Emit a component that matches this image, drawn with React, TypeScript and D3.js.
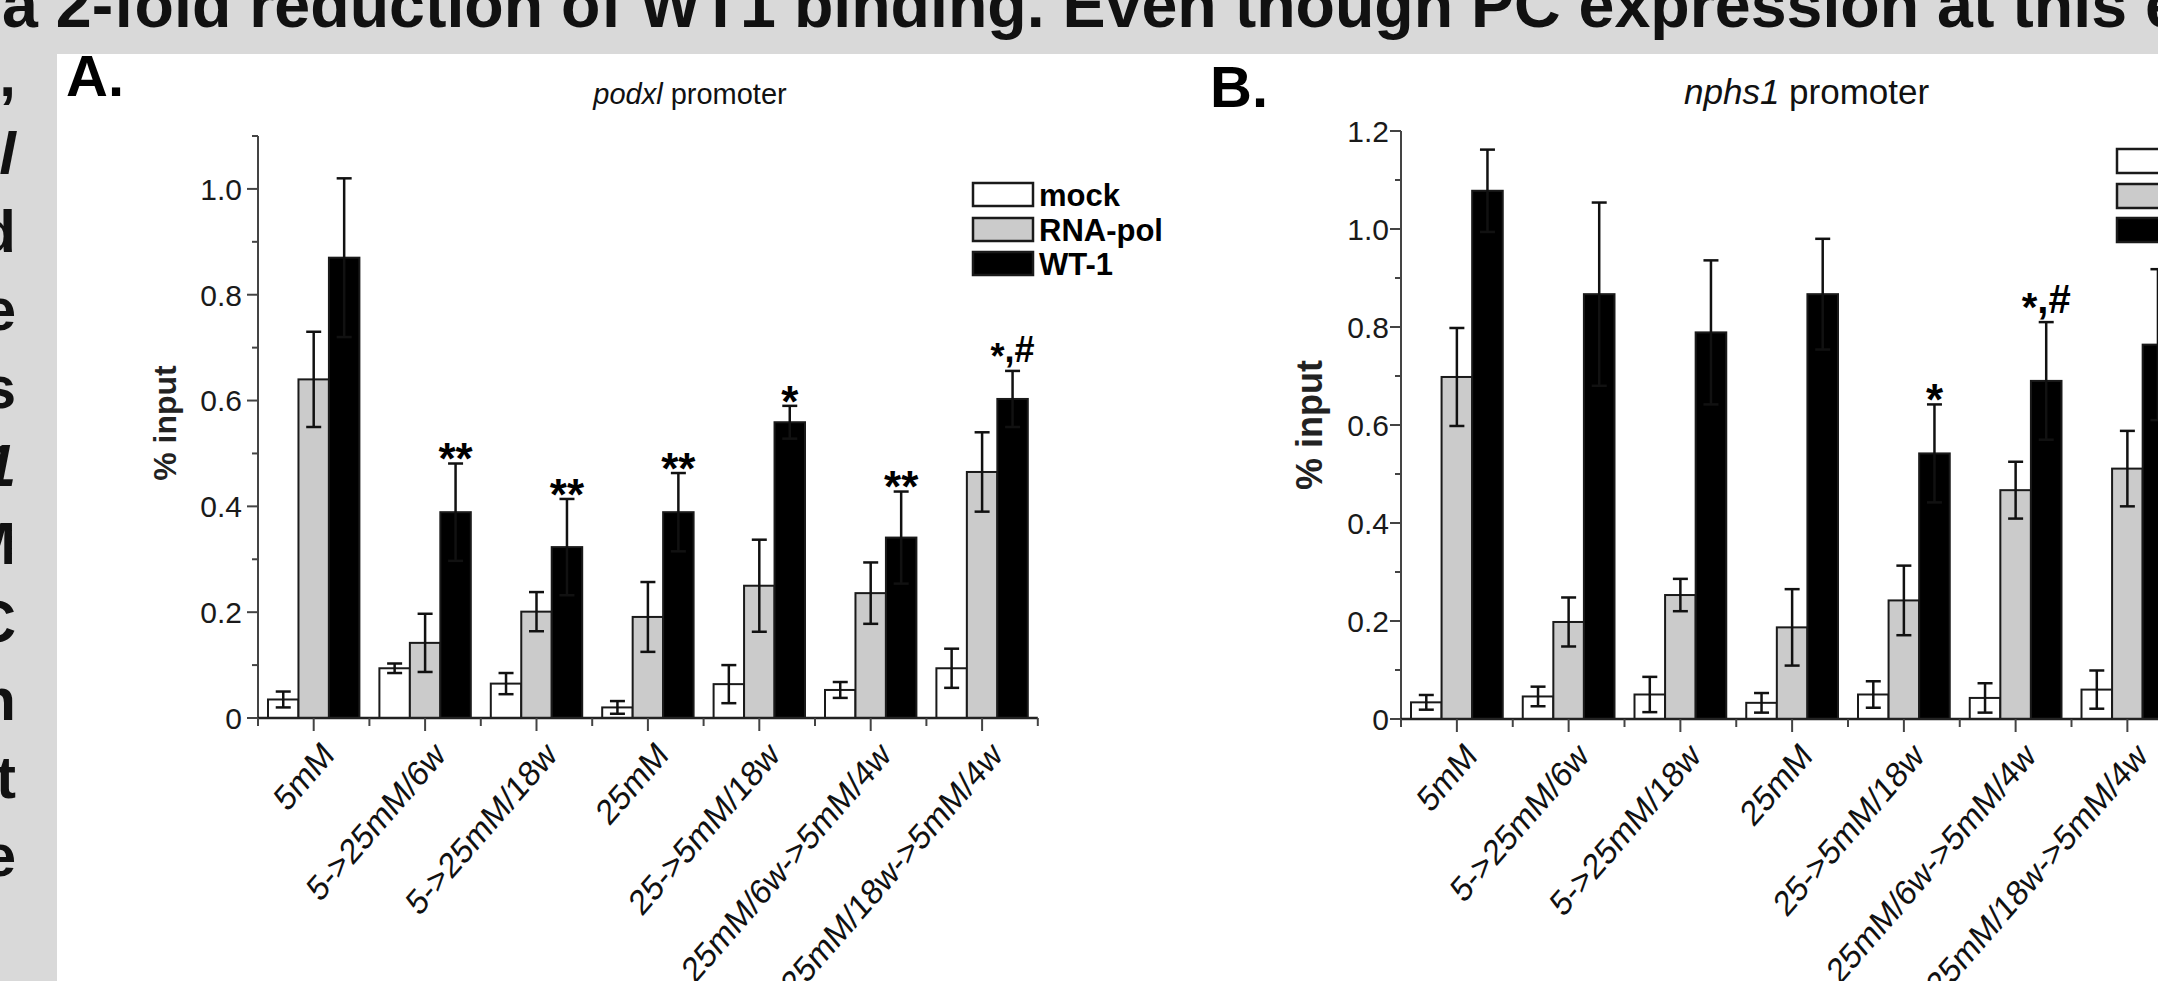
import * as d3 from 'd3';

const categories = [
  '5mM',
  '5->25mM/6w',
  '5->25mM/18w',
  '25mM',
  '25->5mM/18w',
  '25mM/6w->5mM/4w',
  '25mM/18w->5mM/4w',
];
const seriesNames = ['mock', 'RNA-pol', 'WT-1'];
const seriesFill = ['#ffffff', '#cbcbcb', '#000000'];

// panel A: podxl promoter
const podxlMock = [0.035, 0.094, 0.065, 0.02, 0.064, 0.053, 0.094];
const podxlMockErr = [0.015, 0.009, 0.02, 0.012, 0.036, 0.015, 0.037];
const podxlPol = [0.64, 0.142, 0.201, 0.191, 0.25, 0.236, 0.465];
const podxlPolErr = [0.09, 0.055, 0.037, 0.066, 0.087, 0.058, 0.075];
const podxlWt1 = [0.87, 0.389, 0.323, 0.389, 0.559, 0.341, 0.603];
const podxlWt1Err = [0.15, 0.092, 0.091, 0.074, 0.031, 0.087, 0.053];
const podxlMarks = ['', '**', '**', '**', '*', '**', '*,#'];

// panel B: nphs1 promoter
const nphsMock = [0.034, 0.046, 0.05, 0.033, 0.05, 0.043, 0.06];
const nphsMockErr = [0.015, 0.02, 0.036, 0.02, 0.027, 0.03, 0.039];
const nphsPol = [0.698, 0.198, 0.253, 0.187, 0.242, 0.467, 0.511];
const nphsPolErr = [0.1, 0.05, 0.033, 0.078, 0.071, 0.058, 0.077];
const nphsWt1 = [1.078, 0.867, 0.789, 0.867, 0.542, 0.69, 0.764];
const nphsWt1Err = [0.084, 0.187, 0.147, 0.113, 0.1, 0.12, 0.154];
const nphsMarks = ['', '', '', '', '*', '*,#', ''];

const podxlTicks = [0, 0.2, 0.4, 0.6, 0.8, 1.0];
const podxlMinor = [0.1, 0.3, 0.5, 0.7, 0.9, 1.1];
const nphsTicks = [0, 0.2, 0.4, 0.6, 0.8, 1.0, 1.2];
const nphsMinor = [0.1, 0.3, 0.5, 0.7, 0.9, 1.1];

const headline = 'a 2-fold reduction of WT1 binding. Even though PC expression at this e';
const sideLetters = [',', 'l', 'd', 'e', 's', '1', 'M', 'C', 'n', 't', 'e'];
const sideItalic = [false, true, false, false, false, true, false, false, false, false, false];

const FONT = "'Liberation Sans', Arial, Helvetica, sans-serif";

interface PanelProps {
  values: number[][];
  errors: number[][];
  marks: string[];
  ticks: number[];
  minor: number[];
  yMax: number;
  x0: number;
  groupW: number;
  y0: number;
  yTop: number;
  tickLabelRight: number;
  yLabelX: number;
  yLabelY: number;
  yLabelSize: number;
  starSize: number;
  hashSize: number;
  legendX: number;
  legendY: number[];
  legendH: number;
}

function Panel(p: PanelProps) {
  const x = d3
    .scaleBand<string>()
    .domain(categories)
    .range([p.x0, p.x0 + p.groupW * categories.length]);
  const xs = d3.scaleBand<string>().domain(seriesNames).range([10, p.groupW - 10]);
  const y = d3.scaleLinear().domain([0, p.yMax]).range([p.y0, p.yTop]);
  const bw = xs.bandwidth();
  const cap = 7.5;
  const xEnd = x.range()[1];

  return (
    <g fontFamily={FONT}>
      {/* bars */}
      {categories.map((c, i) =>
        seriesNames.map((s, j) => {
          const v = p.values[j][i];
          return (
            <rect
              key={c + s}
              x={x(c)! + xs(s)!}
              y={y(v)}
              width={bw}
              height={y(0) - y(v)}
              fill={seriesFill[j]}
              stroke="#1a1a1a"
              strokeWidth={2}
            />
          );
        })
      )}
      {/* error bars */}
      {categories.map((c, i) =>
        seriesNames.map((s, j) => {
          const v = p.values[j][i];
          const e = p.errors[j][i];
          const cx = x(c)! + xs(s)! + bw / 2;
          const hi = y(v + e);
          const lo = y(Math.max(0, v - e));
          return (
            <g key={'e' + c + s} stroke="#111" strokeWidth={2.5}>
              <line x1={cx} x2={cx} y1={hi} y2={lo} />
              <line x1={cx - cap} x2={cx + cap} y1={hi} y2={hi} />
              <line x1={cx - cap} x2={cx + cap} y1={lo} y2={lo} />
            </g>
          );
        })
      )}
      {/* significance marks */}
      {categories.map((c, i) => {
        const m = p.marks[i];
        if (!m) return null;
        const cx = x(c)! + xs('WT-1')! + bw / 2;
        const top = y(p.values[2][i] + p.errors[2][i]);
        if (m === '*,#') {
          return (
            <text key={'m' + c} x={cx} y={top - 9} fontSize={p.hashSize} fontWeight="bold" textAnchor="middle">
              <tspan dy="0.2em">*</tspan>
              <tspan dy="-0.2em">,#</tspan>
            </text>
          );
        }
        return (
          <text
            key={'m' + c}
            x={cx}
            y={top - 8 + 0.43 * p.starSize}
            fontSize={p.starSize}
            fontWeight="bold"
            textAnchor="middle"
          >
            {m}
          </text>
        );
      })}
      {/* y axis */}
      <line x1={p.x0} x2={p.x0} y1={y(0)} y2={y(p.yMax)} stroke="#444" strokeWidth={2} />
      {p.ticks.map(t => (
        <g key={'t' + t}>
          <line x1={p.x0 - 11} x2={p.x0} y1={y(t)} y2={y(t)} stroke="#444" strokeWidth={2} />
          <text
            x={p.tickLabelRight}
            y={y(t)}
            dy="0.36em"
            fontSize={30}
            textAnchor="end"
            fill="#1a1a1a"
          >
            {t === 0 ? '0' : t.toFixed(1)}
          </text>
        </g>
      ))}
      {p.minor.map(t => (
        <line key={'n' + t} x1={p.x0 - 6} x2={p.x0} y1={y(t)} y2={y(t)} stroke="#444" strokeWidth={2} />
      ))}
      <text
        transform={`translate(${p.yLabelX},${p.yLabelY}) rotate(-90)`}
        fontSize={p.yLabelSize}
        fontWeight="bold"
        textAnchor="middle"
        fill="#222"
      >
        % input
      </text>
      {/* x axis */}
      <line x1={p.x0} x2={xEnd} y1={y(0)} y2={y(0)} stroke="#222" strokeWidth={2.5} />
      {d3.range(categories.length + 1).map(k => (
        <line
          key={'b' + k}
          x1={p.x0 + k * p.groupW}
          x2={p.x0 + k * p.groupW}
          y1={y(0)}
          y2={y(0) + 8}
          stroke="#444"
          strokeWidth={2}
        />
      ))}
      {categories.map(c => {
        const cx = x(c)! + xs('RNA-pol')! + bw / 2;
        return (
          <g key={'x' + c}>
            <line x1={cx} x2={cx} y1={y(0)} y2={y(0) + 13} stroke="#444" strokeWidth={2} />
            <text
              transform={`translate(${cx + 22},${y(0) + 39}) scale(1,1.15) rotate(-45)`}
              fontSize={31}
              textAnchor="end"
              fill="#111"
            >
              {c}
            </text>
          </g>
        );
      })}
      {/* legend */}
      {seriesNames.map((s, j) => (
        <g key={'l' + s}>
          <rect
            x={p.legendX}
            y={p.legendY[j]}
            width={60}
            height={p.legendH}
            fill={seriesFill[j]}
            stroke="#1a1a1a"
            strokeWidth={2.5}
          />
          <text
            x={p.legendX + 66}
            y={p.legendY[j] + p.legendH / 2}
            dy="0.36em"
            fontSize={31}
            fontWeight="bold"
          >
            {s}
          </text>
        </g>
      ))}
    </g>
  );
}

export default function App() {
  return (
    <svg
      width={2158}
      height={981}
      style={{ position: 'absolute', left: 0, top: 0, display: 'block' }}
    >
      <rect x={0} y={0} width={2158} height={981} fill="#d9d9d9" />
      <rect x={57} y={54} width={2101} height={927} fill="#ffffff" />
      <text x={2} y={27} fontFamily={FONT} fontSize={64.5} fontWeight="bold" fill="#111">
        {headline}
      </text>
      {sideLetters.map((l, i) => (
        <text
          key={'s' + i}
          x={16}
          y={96 + i * 78}
          fontFamily={FONT}
          fontSize={60}
          fontWeight="bold"
          fontStyle={sideItalic[i] ? 'italic' : 'normal'}
          textAnchor="end"
          fill="#111"
        >
          {l}
        </text>
      ))}
      <text x={66} y={96} fontFamily={FONT} fontSize={58} fontWeight="bold">A.</text>
      <text x={1210} y={107} fontFamily={FONT} fontSize={58} fontWeight="bold">B.</text>
      <text x={690} y={104} fontFamily={FONT} fontSize={29} textAnchor="middle" fill="#111">
        <tspan fontStyle="italic">podxl</tspan> promoter
      </text>
      <text x={1684} y={104} fontFamily={FONT} fontSize={35} fill="#111">
        <tspan fontStyle="italic">nphs1</tspan> promoter
      </text>
      <Panel
        values={[podxlMock, podxlPol, podxlWt1]}
        errors={[podxlMockErr, podxlPolErr, podxlWt1Err]}
        marks={podxlMarks}
        ticks={podxlTicks}
        minor={podxlMinor}
        yMax={1.1}
        x0={258}
        groupW={111.4}
        y0={718}
        yTop={136}
        tickLabelRight={242}
        yLabelX={176}
        yLabelY={423}
        yLabelSize={32}
        starSize={44}
        hashSize={36}
        legendX={973}
        legendY={[183, 218, 252]}
        legendH={23}
      />
      <Panel
        values={[nphsMock, nphsPol, nphsWt1]}
        errors={[nphsMockErr, nphsPolErr, nphsWt1Err]}
        marks={nphsMarks}
        ticks={nphsTicks}
        minor={nphsMinor}
        yMax={1.2}
        x0={1401}
        groupW={111.75}
        y0={719}
        yTop={131}
        tickLabelRight={1389}
        yLabelX={1322}
        yLabelY={425}
        yLabelSize={36}
        starSize={44}
        hashSize={40}
        legendX={2117}
        legendY={[149, 184, 218]}
        legendH={24}
      />
    </svg>
  );
}
